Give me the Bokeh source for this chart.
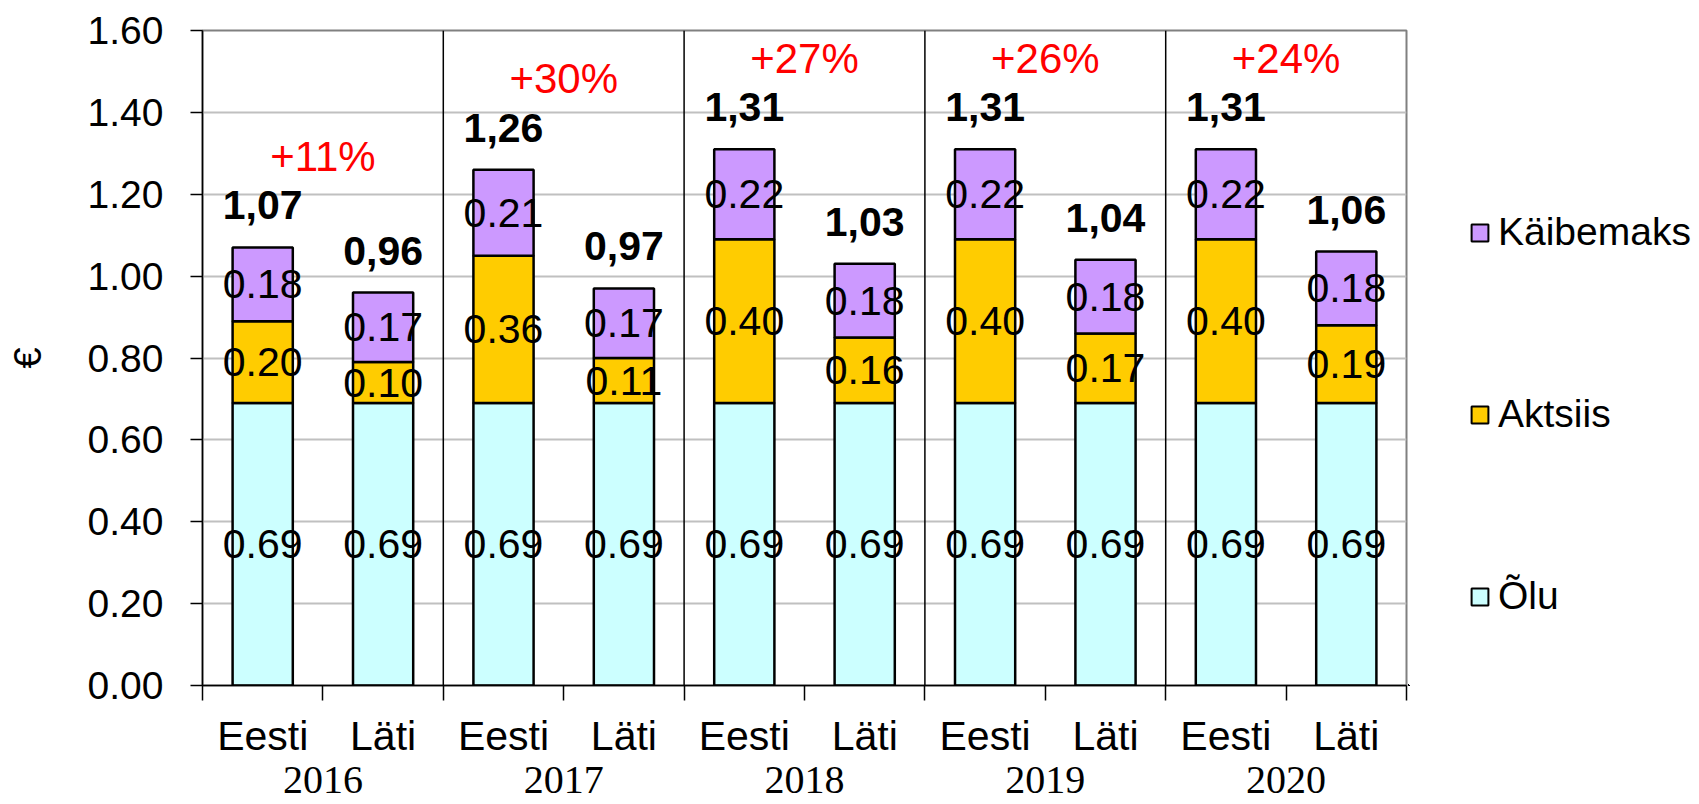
from bokeh.plotting import figure
from bokeh.layouts import row
from bokeh.models import (ColumnDataSource, FixedTicker, LinearAxis, Range1d, Span,
                          Legend, LegendItem, NumeralTickFormatter, Grid)
from bokeh.core.properties import value
from bokeh.embed import file_html
from bokeh.resources import INLINE

# ---------------- data ----------------
years = ["2016", "2017", "2018", "2019", "2020"]
countries = ["Eesti", "Läti"]
olu = [0.69, 0.69, 0.69, 0.69, 0.69, 0.69, 0.69, 0.69, 0.69, 0.69]
aktsiis = [0.20, 0.10, 0.36, 0.11, 0.40, 0.16, 0.40, 0.17, 0.40, 0.19]
kaibemaks = [0.18, 0.17, 0.21, 0.17, 0.22, 0.18, 0.22, 0.18, 0.22, 0.18]
totals = ["1,07", "0,96", "1,26", "0,97", "1,31", "1,03", "1,31", "1,04", "1,31", "1,06"]
growth = ["+11%", "+30%", "+27%", "+26%", "+24%"]
series_names = ["Õlu", "Aktsiis", "Käibemaks"]
series_colors = ["#CCFFFF", "#FFCC00", "#CC99FF"]
y_ticks = [0.0, 0.2, 0.4, 0.6, 0.8, 1.0, 1.2, 1.4, 1.6]

# ---------------- derived ----------------
n = len(olu)
ncty = len(countries)
x = [i + 0.5 for i in range(n)]
cty_labels = [countries[i % ncty] for i in range(n)]
stacks = [olu, aktsiis, kaibemaks]
keys = ["olu", "aktsiis", "kaibemaks"]
src = ColumnDataSource(dict(x=x, olu=olu, aktsiis=aktsiis, kaibemaks=kaibemaks))

seg_x, seg_y, seg_t = [], [], []
cum = [0.0] * n
for vals in stacks:
    for i, v in enumerate(vals):
        seg_x.append(x[i])
        seg_y.append(cum[i] + v / 2)
        seg_t.append(f"{v:.2f}")
        cum[i] += v
tot_y = cum[:]
group_centers = [ncty * g + ncty / 2 for g in range(len(years))]
group_bounds = [ncty * g for g in range(1, len(years))]
eesti_tot = [tot_y[ncty * g] for g in range(len(years))]

FONT = "Liberation Sans"

p = figure(width=1408, height=804, x_range=Range1d(0, n), y_range=Range1d(0, 1.6),
           output_backend="svg", toolbar_location=None,
           x_axis_type=None, y_axis_type=None,
           min_border_left=202, min_border_right=2, min_border_top=30,
           min_border_bottom=119)
p.outline_line_color = "#808080"
p.outline_line_width = 2
p.background_fill_color = "white"
p.border_fill_color = "white"

# y axis
yaxis = LinearAxis(ticker=FixedTicker(ticks=y_ticks),
                   formatter=NumeralTickFormatter(format="0.00"))
yaxis.axis_line_color = "black"
yaxis.axis_line_width = 1.5
yaxis.major_tick_out = 12
yaxis.major_tick_in = 0
yaxis.major_tick_line_color = "black"
yaxis.major_tick_line_width = 1.5
yaxis.minor_tick_line_color = None
yaxis.major_label_text_font = FONT
yaxis.major_label_text_font_size = "39px"
yaxis.major_label_text_color = "black"
yaxis.major_label_standoff = 27
yaxis.axis_label = "€"
yaxis.axis_label_text_font = FONT
yaxis.axis_label_text_font_size = "38px"
yaxis.axis_label_text_font_style = "normal"
yaxis.axis_label_text_color = "black"
yaxis.axis_label_standoff = 36
p.add_layout(yaxis, "left")
p.add_layout(Grid(dimension=1, ticker=yaxis.ticker, grid_line_color="#C0C0C0",
                  grid_line_width=2))

# x axis (countries)
xaxis = LinearAxis(ticker=FixedTicker(ticks=x, minor_ticks=list(range(n + 1))),
                   major_label_overrides={x[i]: cty_labels[i] for i in range(n)})
xaxis.axis_line_color = "black"
xaxis.axis_line_width = 1.5
xaxis.major_tick_line_color = None
xaxis.major_tick_out = 0
xaxis.major_tick_in = 0
xaxis.minor_tick_line_color = "black"
xaxis.minor_tick_line_width = 1.5
xaxis.minor_tick_out = 15
xaxis.minor_tick_in = 0
xaxis.major_label_text_font = FONT
xaxis.major_label_text_font_size = "41px"
xaxis.major_label_text_color = "black"
xaxis.major_label_standoff = 12
p.add_layout(xaxis, "below")

# x axis (years)
yr_axis = LinearAxis(ticker=FixedTicker(ticks=group_centers),
                     major_label_overrides={group_centers[g]: years[g] for g in range(len(years))})
yr_axis.axis_line_color = None
yr_axis.major_tick_line_color = None
yr_axis.minor_tick_line_color = None
yr_axis.major_tick_out = 0
yr_axis.major_tick_in = 0
yr_axis.major_label_text_font = "Liberation Serif"
yr_axis.major_label_text_font_size = "40px"
yr_axis.major_label_text_color = "black"
yr_axis.major_label_standoff = 5
p.add_layout(yr_axis, "below")

for b in group_bounds:
    p.add_layout(Span(location=b, dimension="height", line_color="black", line_width=1.5))

rs = p.vbar_stack(keys, x="x", width=0.5, color=series_colors, line_color="black",
                  line_width=2.5, source=src)

p.text(x=seg_x, y=seg_y, text=seg_t, text_align="center", text_baseline="middle",
       text_font=value(FONT), text_font_size="41px", text_color="black")
p.text(x=x, y=tot_y, text=totals, y_offset=-42, text_align="center",
       text_baseline="middle", text_font=value(FONT), text_font_size="41px",
       text_font_style="bold", text_color="black")
p.text(x=group_centers, y=eesti_tot, text=growth, y_offset=-91, text_align="center",
       text_baseline="middle", text_font=value(FONT), text_font_size="42px",
       text_color="#FF0000")

# ---------------- legend panel (same series, view range kept empty) ----------------
lf = figure(width=291, height=804, output_backend="svg", toolbar_location=None,
            x_range=Range1d(50, 51), y_range=Range1d(50, 51),
            x_axis_type=None, y_axis_type=None,
            min_border_left=0, min_border_right=0, min_border_top=0, min_border_bottom=0)
lf.outline_line_color = None
lf.background_fill_color = "white"
lf.border_fill_color = "white"
leg_rs = lf.vbar_stack(keys, x="x", width=0.5, color=series_colors, line_color="black",
                       line_width=2, source=src)

legend = Legend(items=[LegendItem(label=series_names[k], renderers=[leg_rs[k]])
                       for k in reversed(range(len(leg_rs)))],
                location=(61, 67), orientation="vertical")
legend.label_text_font = FONT
legend.label_text_font_size = "39px"
legend.label_text_color = "black"
legend.glyph_width = 21
legend.glyph_height = 21
legend.label_height = 44
legend.label_standoff = 8
legend.spacing = 138
legend.padding = 0
legend.margin = 0
legend.border_line_color = None
legend.background_fill_alpha = 0
lf.add_layout(legend)

layout = row(p, lf, spacing=0)
open("out.html", "w").write(file_html(layout, INLINE))
